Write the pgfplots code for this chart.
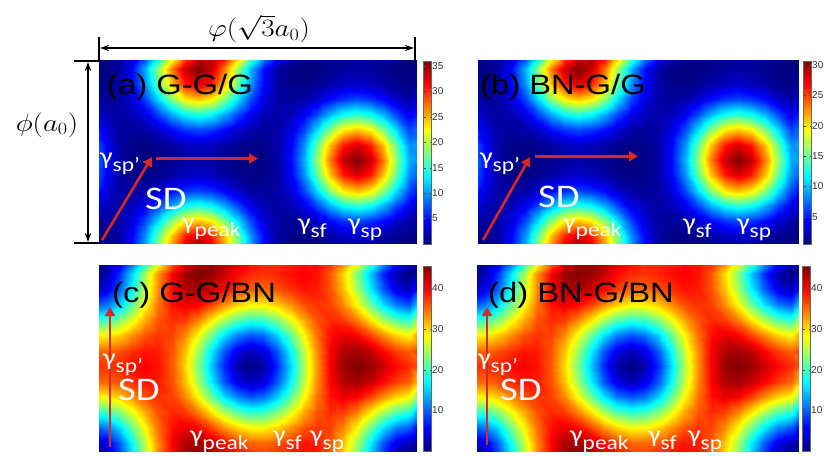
\documentclass[border=0pt]{standalone}
\usepackage{pgfplots}
\pgfplotsset{compat=1.18}
\usepackage{pgfplotstable}
\usepackage{graphicx}
\usepackage{fontspec}
\setmainfont{Liberation Sans}
\newfontfamily\carl{Carlito}
\usetikzlibrary{arrows.meta}
\definecolor{arrred}{RGB}{215,40,40}

\newcommand\hs[1]{\scalebox{1.17}[1]{#1}}
\newcommand\plab[1]{\hs{\fontsize{28}{28}\selectfont #1}}
\newcommand\gam[1]{\hs{\carl\color{white}\fontsize{24}{24}\selectfont γ\raisebox{-7pt}{\fontsize{20}{20}\selectfont #1}}}
\newcommand\sd{\hs{\carl\color{white}\fontsize{33}{33}\selectfont SD}}

\pgfplotstableread{
x y a b c
0 0 0 0.5 0
1 0 0.1 0.6 1.9
2 0 1.3 1.6 7.4
3 0 4.7 4.4 15.5
4 0 10.7 9.5 24.7
5 0 18.7 16.2 33.3
6 0 27.3 23.4 40.1
7 0 33.6 28.7 44.2
8 0 36 30.7 45.5
9 0 33.6 28.7 44.5
10 0 27.3 23.4 42.2
11 0 18.7 16.2 39.7
12 0 10.7 9.5 38.0
13 0 4.7 4.4 37.6
14 0 1.3 1.6 38.2
15 0 0.1 0.6 39.4
16 0 0 0.5 40.0
17 0 0.1 0.6 39.1
18 0 0.5 0.9 35.9
19 0 1.1 1.4 30.3
20 0 1.3 1.6 22.8
21 0 1.1 1.4 14.6
22 0 0.5 0.9 7.2
23 0 0.1 0.6 1.9
24 0 0 0.5 0
0 1 0.2 0.7 2.5
1 1 0.3 0.8 4.3
2 1 1.3 1.6 9.5
3 1 4.3 4.1 17.1
4 1 9.6 8.6 25.7
5 1 17.0 14.8 33.7
6 1 24.7 21.2 39.8
7 1 30.6 26.2 43.3
8 1 32.9 28.1 44.0
9 1 30.6 26.2 42.5
10 1 24.7 21.2 39.8
11 1 17.0 14.8 37.2
12 1 9.6 8.6 35.5
13 1 4.3 4.1 35.2
14 1 1.3 1.6 36.2
15 1 0.3 0.8 37.8
16 1 0.2 0.7 39.0
17 1 0.5 0.9 38.7
18 1 1.3 1.6 36.2
19 1 2.2 2.3 31.2
20 1 2.5 2.6 24.4
21 1 2.2 2.3 16.6
22 1 1.3 1.6 9.5
23 1 0.5 0.9 4.4
24 1 0.2 0.7 2.5
0 2 1.3 1.6 9.5
1 2 0.9 1.3 10.8
2 2 1.3 1.6 15.1
3 2 3.2 3.2 21.5
4 2 6.9 6.3 28.5
5 2 12.4 10.9 34.8
6 2 18.3 15.9 39.1
7 2 23.0 19.8 40.7
8 2 24.7 21.2 39.8
9 2 23.0 19.8 37.0
10 2 18.3 15.9 33.4
11 2 12.4 10.9 30.3
12 2 6.9 6.3 28.5
13 2 3.2 3.2 28.7
14 2 1.3 1.6 30.5
15 2 0.9 1.3 33.4
16 2 1.3 1.6 36.2
17 2 2.6 2.7 37.6
18 2 4.6 4.4 37.0
19 2 6.2 5.7 33.8
20 2 6.9 6.3 28.5
21 2 6.2 5.7 22.1
22 2 4.6 4.4 15.9
23 2 2.6 2.7 11.4
24 2 1.3 1.6 9.5
0 3 3.8 3.7 19.0
1 3 1.9 2.1 19.7
2 3 1.3 1.6 22.8
3 3 1.9 2.1 27.4
4 3 3.8 3.7 32.3
5 3 6.9 6.3 36.2
6 3 10.7 9.5 38.0
7 3 13.7 12.0 37.3
8 3 14.9 13.0 34.2
9 3 13.7 12.0 29.6
10 3 10.7 9.5 24.7
11 3 6.9 6.3 20.8
12 3 3.8 3.7 19.0
13 3 1.9 2.1 19.7
14 3 1.3 1.6 22.8
15 3 1.9 2.1 27.4
16 3 3.8 3.7 32.3
17 3 6.9 6.3 36.2
18 3 10.7 9.5 38.0
19 3 13.7 12.0 37.3
20 3 14.9 13.0 34.2
21 3 13.7 12.0 29.6
22 3 10.7 9.5 24.7
23 3 6.9 6.3 20.8
24 3 3.8 3.7 19.0
0 4 6.9 6.3 28.5
1 4 3.2 3.2 28.7
2 4 1.3 1.6 30.5
3 4 0.9 1.3 33.4
4 4 1.3 1.6 36.2
5 4 2.6 2.7 37.6
6 4 4.6 4.4 37.0
7 4 6.2 5.7 33.8
8 4 6.9 6.3 28.5
9 4 6.2 5.7 22.1
10 4 4.6 4.4 15.9
11 4 2.6 2.7 11.4
12 4 1.3 1.6 9.5
13 4 0.9 1.3 10.8
14 4 1.3 1.6 15.1
15 4 3.2 3.2 21.5
16 4 6.9 6.3 28.5
17 4 12.4 10.9 34.8
18 4 18.3 15.9 39.1
19 4 23.0 19.8 40.7
20 4 24.7 21.2 39.8
21 4 23.0 19.8 37.0
22 4 18.3 15.9 33.4
23 4 12.4 10.9 30.3
24 4 6.9 6.3 28.5
0 5 9.6 8.6 35.5
1 5 4.3 4.1 35.2
2 5 1.3 1.6 36.2
3 5 0.3 0.8 37.8
4 5 0.2 0.7 39.0
5 5 0.5 0.9 38.7
6 5 1.3 1.6 36.2
7 5 2.2 2.3 31.2
8 5 2.5 2.6 24.4
9 5 2.2 2.3 16.6
10 5 1.3 1.6 9.5
11 5 0.5 0.9 4.4
12 5 0.2 0.7 2.5
13 5 0.3 0.8 4.3
14 5 1.3 1.6 9.5
15 5 4.3 4.1 17.1
16 5 9.6 8.6 25.7
17 5 17.0 14.8 33.7
18 5 24.7 21.2 39.8
19 5 30.6 26.2 43.3
20 5 32.9 28.1 44.0
21 5 30.6 26.2 42.5
22 5 24.7 21.2 39.8
23 5 17.0 14.8 37.2
24 5 9.6 8.6 35.5
0 6 10.7 9.5 38.0
1 6 4.7 4.4 37.6
2 6 1.3 1.6 38.2
3 6 0.1 0.6 39.4
4 6 0 0.5 40.0
5 6 0.1 0.6 39.1
6 6 0.5 0.9 35.9
7 6 1.1 1.4 30.3
8 6 1.3 1.6 22.8
9 6 1.1 1.4 14.6
10 6 0.5 0.9 7.2
11 6 0.1 0.6 1.9
12 6 0 0.5 0
13 6 0.1 0.6 1.9
14 6 1.3 1.6 7.4
15 6 4.7 4.4 15.5
16 6 10.7 9.5 24.7
17 6 18.7 16.2 33.3
18 6 27.3 23.4 40.1
19 6 33.6 28.7 44.2
20 6 36 30.7 45.5
21 6 33.6 28.7 44.5
22 6 27.3 23.4 42.2
23 6 18.7 16.2 39.7
24 6 10.7 9.5 38.0
0 7 9.6 8.6 35.5
1 7 4.3 4.1 35.2
2 7 1.3 1.6 36.2
3 7 0.3 0.8 37.8
4 7 0.2 0.7 39.0
5 7 0.5 0.9 38.7
6 7 1.3 1.6 36.2
7 7 2.2 2.3 31.2
8 7 2.5 2.6 24.4
9 7 2.2 2.3 16.6
10 7 1.3 1.6 9.5
11 7 0.5 0.9 4.4
12 7 0.2 0.7 2.5
13 7 0.3 0.8 4.3
14 7 1.3 1.6 9.5
15 7 4.3 4.1 17.1
16 7 9.6 8.6 25.7
17 7 17.0 14.8 33.7
18 7 24.7 21.2 39.8
19 7 30.6 26.2 43.3
20 7 32.9 28.1 44.0
21 7 30.6 26.2 42.5
22 7 24.7 21.2 39.8
23 7 17.0 14.8 37.2
24 7 9.6 8.6 35.5
0 8 6.9 6.3 28.5
1 8 3.2 3.2 28.7
2 8 1.3 1.6 30.5
3 8 0.9 1.3 33.4
4 8 1.3 1.6 36.2
5 8 2.6 2.7 37.6
6 8 4.6 4.4 37.0
7 8 6.2 5.7 33.8
8 8 6.9 6.3 28.5
9 8 6.2 5.7 22.1
10 8 4.6 4.4 15.9
11 8 2.6 2.7 11.4
12 8 1.3 1.6 9.5
13 8 0.9 1.3 10.8
14 8 1.3 1.6 15.1
15 8 3.2 3.2 21.5
16 8 6.9 6.3 28.5
17 8 12.4 10.9 34.8
18 8 18.3 15.9 39.1
19 8 23.0 19.8 40.7
20 8 24.7 21.2 39.8
21 8 23.0 19.8 37.0
22 8 18.3 15.9 33.4
23 8 12.4 10.9 30.3
24 8 6.9 6.3 28.5
0 9 3.8 3.7 19.0
1 9 1.9 2.1 19.7
2 9 1.3 1.6 22.8
3 9 1.9 2.1 27.4
4 9 3.8 3.7 32.3
5 9 6.9 6.3 36.2
6 9 10.7 9.5 38.0
7 9 13.7 12.0 37.3
8 9 14.9 13.0 34.2
9 9 13.7 12.0 29.6
10 9 10.7 9.5 24.7
11 9 6.9 6.3 20.8
12 9 3.8 3.7 19.0
13 9 1.9 2.1 19.7
14 9 1.3 1.6 22.8
15 9 1.9 2.1 27.4
16 9 3.8 3.7 32.3
17 9 6.9 6.3 36.2
18 9 10.7 9.5 38.0
19 9 13.7 12.0 37.3
20 9 14.9 13.0 34.2
21 9 13.7 12.0 29.6
22 9 10.7 9.5 24.7
23 9 6.9 6.3 20.8
24 9 3.8 3.7 19.0
0 10 1.3 1.6 9.5
1 10 0.9 1.3 10.8
2 10 1.3 1.6 15.1
3 10 3.2 3.2 21.5
4 10 6.9 6.3 28.5
5 10 12.4 10.9 34.8
6 10 18.3 15.9 39.1
7 10 23.0 19.8 40.7
8 10 24.7 21.2 39.8
9 10 23.0 19.8 37.0
10 10 18.3 15.9 33.4
11 10 12.4 10.9 30.3
12 10 6.9 6.3 28.5
13 10 3.2 3.2 28.7
14 10 1.3 1.6 30.5
15 10 0.9 1.3 33.4
16 10 1.3 1.6 36.2
17 10 2.6 2.7 37.6
18 10 4.6 4.4 37.0
19 10 6.2 5.7 33.8
20 10 6.9 6.3 28.5
21 10 6.2 5.7 22.1
22 10 4.6 4.4 15.9
23 10 2.6 2.7 11.4
24 10 1.3 1.6 9.5
0 11 0.2 0.7 2.5
1 11 0.3 0.8 4.3
2 11 1.3 1.6 9.5
3 11 4.3 4.1 17.1
4 11 9.6 8.6 25.7
5 11 17.0 14.8 33.7
6 11 24.7 21.2 39.8
7 11 30.6 26.2 43.3
8 11 32.9 28.1 44.0
9 11 30.6 26.2 42.5
10 11 24.7 21.2 39.8
11 11 17.0 14.8 37.2
12 11 9.6 8.6 35.5
13 11 4.3 4.1 35.2
14 11 1.3 1.6 36.2
15 11 0.3 0.8 37.8
16 11 0.2 0.7 39.0
17 11 0.5 0.9 38.7
18 11 1.3 1.6 36.2
19 11 2.2 2.3 31.2
20 11 2.5 2.6 24.4
21 11 2.2 2.3 16.6
22 11 1.3 1.6 9.5
23 11 0.5 0.9 4.4
24 11 0.2 0.7 2.5
0 12 0 0.5 0
1 12 0.1 0.6 1.9
2 12 1.3 1.6 7.4
3 12 4.7 4.4 15.5
4 12 10.7 9.5 24.7
5 12 18.7 16.2 33.3
6 12 27.3 23.4 40.1
7 12 33.6 28.7 44.2
8 12 36 30.7 45.5
9 12 33.6 28.7 44.5
10 12 27.3 23.4 42.2
11 12 18.7 16.2 39.7
12 12 10.7 9.5 38.0
13 12 4.7 4.4 37.6
14 12 1.3 1.6 38.2
15 12 0.1 0.6 39.4
16 12 0 0.5 40.0
17 12 0.1 0.6 39.1
18 12 0.5 0.9 35.9
19 12 1.1 1.4 30.3
20 12 1.3 1.6 22.8
21 12 1.1 1.4 14.6
22 12 0.5 0.9 7.2
23 12 0.1 0.6 1.9
24 12 0 0.5 0
}\maptable

\pgfplotsset{
  panel/.style={
    scale only axis, anchor=north west,
    xmin=0, xmax=24, ymin=0, ymax=12,
    axis line style={draw=none}, xtick=\empty, ytick=\empty,
    colormap/jet, colorbar,
    colorbar style={at={(parent axis.north east)}, anchor=north west,
      width=8pt, yticklabel pos=right,
      yticklabel style={font=\fontsize{10}{10}\selectfont, inner sep=0.5pt, text=black!80},
      major tick length=2pt, tick style={black!70}, axis line style={black!60}},
  },
}
\tikzset{redarr/.style={arrred, line width=2.6pt, -{Triangle[length=9pt,width=10pt]}}}

\begin{document}
\begin{tikzpicture}[x=1pt,y=1pt]
\path[use as bounding box] (0,0) rectangle (828,-457);

% (a)
\begin{axis}[panel, at={(99pt,-61pt)}, width=317pt, height=183pt,
  point meta min=0, point meta max=36,
  colorbar style={xshift=-1pt, ytick={5,10,15,20,25,30,35}, yticklabels={5,10,15,20,25,30,35}}]
\addplot[matrix plot*, shader=interp, mesh/cols=25, point meta=\thisrow{a}] table[x=x,y=y] {\maptable};
\draw[redarr] (axis cs:0.23,0.26) -- (axis cs:4.01,5.7);
\draw[redarr] (axis cs:4.3,5.6) -- (axis cs:12.04,5.6);
\end{axis}

% (b)
\begin{axis}[panel, at={(478pt,-61pt)}, width=320pt, height=183pt,
  point meta min=0.5, point meta max=30.7,
  colorbar style={xshift=-3pt, ytick={5,10,15,20,25,30}, yticklabels={5,10,15,20,25,30}}]
\addplot[matrix plot*, shader=interp, mesh/cols=25, point meta=\thisrow{b}] table[x=x,y=y] {\maptable};
\draw[redarr] (axis cs:0.38,0.26) -- (axis cs:3.9,5.7);
\draw[redarr] (axis cs:4.3,5.75) -- (axis cs:12.0,5.75);
\end{axis}

% (c)
\begin{axis}[panel, at={(99pt,-266pt)}, width=317pt, height=185pt,
  point meta min=0, point meta max=45.5,
  colorbar style={xshift=-1pt, ytick={10,20,30,40}, yticklabels={10,20,30,40}}]
\addplot[matrix plot*, shader=interp, mesh/cols=25, point meta=\thisrow{c}] table[x=x,y=y] {\maptable};
\draw[redarr] (axis cs:0.83,0.26) -- (axis cs:0.83,9.34);
\end{axis}

% (d)
\begin{axis}[panel, at={(477pt,-266pt)}, width=321pt, height=185pt,
  point meta min=0, point meta max=45.5,
  colorbar style={xshift=-4pt, ytick={10,20,30,40}, yticklabels={10,20,30,40}}]
\addplot[matrix plot*, shader=interp, mesh/cols=25, point meta=\thisrow{c}] table[x=x,y=y] {\maptable};
\draw[redarr] (axis cs:0.75,0.39) -- (axis cs:0.75,9.34);
\end{axis}

% dimension marks
\draw[line width=1.1pt] (99,-37) -- (99,-61);
\draw[line width=1.1pt] (415,-37) -- (415,-61);
\draw[line width=1.1pt, {Stealth[length=9pt,width=6pt]}-{Stealth[length=9pt,width=6pt]}] (100,-48) -- (414,-48);
\node[inner sep=0pt] at (259,-29) {\hs{\fontsize{23}{23}\selectfont $\varphi(\sqrt{3}a_0)$}};
\draw[line width=1.1pt] (74,-61) -- (99,-61);
\draw[line width=1.1pt] (74,-243) -- (99,-243);
\draw[line width=1.1pt, {Stealth[length=9pt,width=6pt]}-{Stealth[length=9pt,width=6pt]}] (88,-62) -- (88,-242);
\node at (47,-125) {\hs{\fontsize{24}{24}\selectfont $\phi(a_0)$}};

% panel labels
\node[anchor=base west, inner sep=0pt] at (107,-95) {\plab{(a) G-G/G}};
\node[anchor=base west, inner sep=0pt] at (480,-95) {\plab{(b) BN-G/G}};
\node[anchor=base west, inner sep=0pt] at (112,-302) {\plab{(c) G-G/BN}};
\node[anchor=base west, inner sep=0pt] at (488,-302) {\plab{(d) BN-G/BN}};

% white labels (a)
\node[anchor=base west, inner sep=0pt] at (100,-165) {\gam{sp’}};
\node[anchor=base west, inner sep=0pt] at (145,-210) {\sd};
\node[anchor=base west, inner sep=0pt] at (182,-230) {\gam{peak}};
\node[anchor=base west, inner sep=0pt] at (298,-231) {\gam{sf}};
\node[anchor=base west, inner sep=0pt] at (348,-231) {\gam{sp}};
% (b)
\node[anchor=base west, inner sep=0pt] at (480,-165) {\gam{sp’}};
\node[anchor=base west, inner sep=0pt] at (538,-208) {\sd};
\node[anchor=base west, inner sep=0pt] at (563,-230) {\gam{peak}};
\node[anchor=base west, inner sep=0pt] at (683,-231) {\gam{sf}};
\node[anchor=base west, inner sep=0pt] at (737,-231) {\gam{sp}};
% (c)
\node[anchor=base west, inner sep=0pt] at (103,-366) {\gam{sp’}};
\node[anchor=base west, inner sep=0pt] at (118,-400) {\sd};
\node[anchor=base west, inner sep=0pt] at (190,-442) {\gam{peak}};
\node[anchor=base west, inner sep=0pt] at (273,-442) {\gam{sf}};
\node[anchor=base west, inner sep=0pt] at (310,-442) {\gam{sp}};
% (d)
\node[anchor=base west, inner sep=0pt] at (478,-366) {\gam{sp’}};
\node[anchor=base west, inner sep=0pt] at (500,-400) {\sd};
\node[anchor=base west, inner sep=0pt] at (570,-442) {\gam{peak}};
\node[anchor=base west, inner sep=0pt] at (648,-442) {\gam{sf}};
\node[anchor=base west, inner sep=0pt] at (688,-442) {\gam{sp}};
\end{tikzpicture}
\end{document}
